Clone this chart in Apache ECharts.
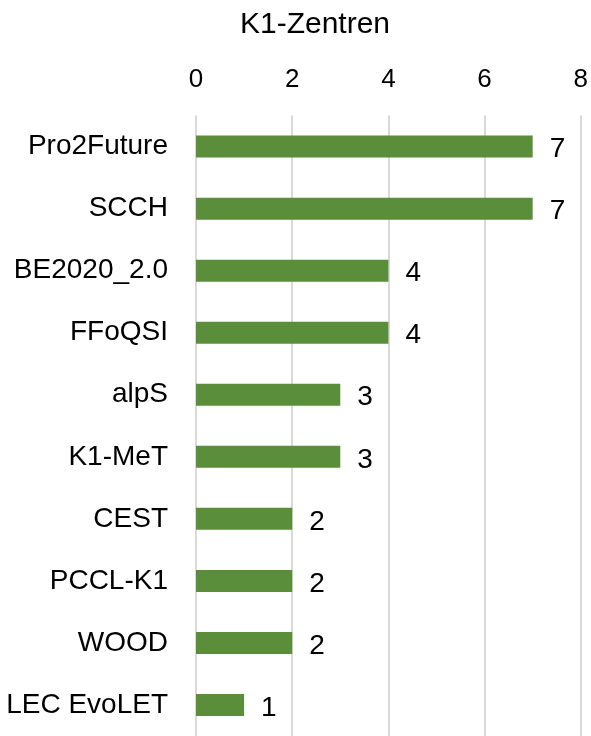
<!DOCTYPE html>
<html><head><meta charset="utf-8">
<script src="https://cdn.jsdelivr.net/npm/echarts@6/dist/echarts.min.js"></script>
<style>html,body{margin:0;padding:0;background:#fff}#c{width:591px;height:736px}</style>
</head><body><div id="c"></div>
<script>
const categories = ["Pro2Future","SCCH","BE2020_2.0","FFoQSI","alpS","K1-MeT","CEST","PCCL-K1","WOOD","LEC EvoLET"];
const values = [7,7,4,4,3,3,2,2,2,1];
const titleText = "K1-Zentren";
const FONT = "Liberation Sans";
const chart = echarts.init(document.getElementById('c'));
chart.setOption({
  animation:false,
  title:{text:titleText,left:310,top:5,textAlign:'center',textStyle:{fontFamily:FONT,fontSize:30,fontWeight:'normal',color:'#000'}},
  grid:{left:196,right:5,top:115.6,bottom:-1.4,containLabel:false},
  xAxis:{type:'value',position:'top',min:0,max:8,interval:2,
    axisLine:{show:false},axisTick:{show:false},
    axisLabel:{fontFamily:FONT,fontSize:26,color:'#000',margin:23},
    splitLine:{lineStyle:{color:'#d9d9d9',width:2}}},
  yAxis:{type:'category',inverse:true,data:categories,
    axisLine:{show:false},axisTick:{show:false},
    axisLabel:{fontFamily:FONT,fontSize:28,color:'#000',margin:28}},
  series:[{type:'bar',data:values,barWidth:22,itemStyle:{color:'#5b8e3a'},
    label:{show:true,position:'right',distance:17,fontFamily:FONT,fontSize:28,color:'#000',offset:[0,3]}}]
});
</script></body></html>
